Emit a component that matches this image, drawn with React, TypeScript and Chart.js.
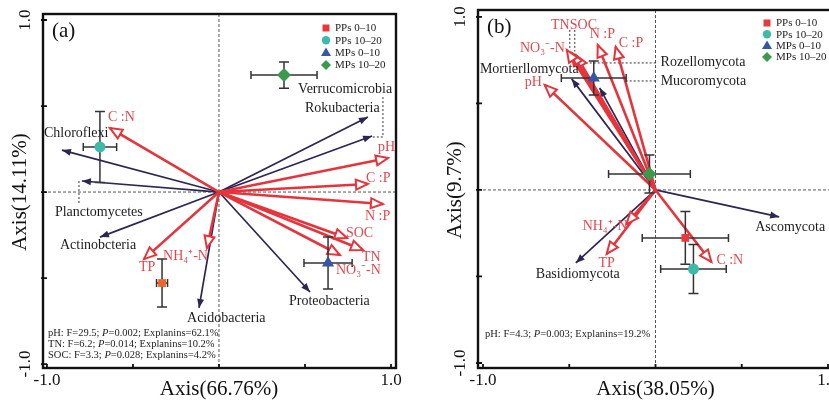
import React, { useEffect, useRef } from "react";
import { Chart, registerables } from "chart.js";

Chart.register(...registerables);

const FONT = "'Liberation Serif', 'Times New Roman', serif";

// Sample groups shared by both ordination panels
const groupNames = ["PPs 0–10", "PPs 10–20", "MPs 0–10", "MPs 10–20"];
const groupColors = ["#e8383d", "#3dbaa9", "#3556a6", "#3a9a4e"];
const groupShapes = ["rect", "circle", "triangle", "rectRot"];
const groupRadius = [5.5, 5.5, 7, 7];

// Axis ticks
const tickValues = [-1, -0.5, 0, 0.5, 1];
const tickLabelValues = [-1, 1];
const tickLabelText = ["-1.0", "1.0"];

// ---- (a) bacterial phyla ----
const envNamesA = ["C :N", "pH", "C :P", "N :P", "SOC", "TN", "NO₃⁻-N", "NH₄⁺-N", "TP"];
const envXA = [-0.634, 0.983, 0.866, 0.953, 0.744, 0.837, 0.703, -0.07, -0.436];
const envYA = [0.372, 0.198, 0.047, -0.07, -0.267, -0.337, -0.366, -0.326, -0.39];

const taxaNamesA = ["Rokubacteria", "Verrucomicrobia", "Chloroflexi", "Planctomycetes", "Actinobcteria", "Acidobacteria", "Proteobacteria"];
const taxaXA = [0.866, 0.89, -0.913, -0.797, -0.692, -0.116, 0.529];
const taxaYA = [0.436, 0.326, 0.244, 0.064, -0.262, -0.674, -0.581];

const groupXA = [-0.331, -0.692, 0.634, 0.378];
const groupYA = [-0.529, 0.262, -0.413, 0.68];
const groupXErrA = [0.032, 0.097, 0.14, 0.192];
const groupYErrA = [0.14, 0.206, 0.151, 0.076];

const statsA = [
  "pH: F=29.5; P=0.002; Explanins=62.1%",
  "TN: F=6.2; P=0.014; Explanins=10.2%",
  "SOC: F=3.3; P=0.028; Explanins=4.2%",
];

// ---- (b) fungal phyla ----
const envNamesB = ["NO₃⁻-N", "TN", "SOC", "N :P", "C :P", "pH", "NH₄⁺-N", "TP", "C :N"];
const envXB = [-0.514, -0.486, -0.462, -0.335, -0.231, -0.642, -0.168, -0.283, 0.324];
const envYB = [0.809, 0.792, 0.78, 0.838, 0.827, 0.607, -0.197, -0.37, -0.416];

const taxaNamesB = ["Mortierllomycota", "Mucoromycota", "Rozellomycota", "Basidiomycota", "Ascomycota"];
const taxaXB = [-0.428, -0.486, -0.324, -0.462, 0.717];
const taxaYB = [0.694, 0.642, 0.59, -0.422, -0.156];

const groupXB = [0.173, 0.22, -0.358, -0.035];
const groupYB = [-0.277, -0.457, 0.647, 0.092];
const groupXErrB = [0.25, 0.19, 0.188, 0.237];
const groupYErrB = [0.153, 0.142, 0.098, 0.11];

const statsB = ["pH: F=4.3; P=0.003; Explanins=19.2%"];

type Align = "left" | "right" | "center";
type Place = [number, number, Align];

interface PanelSpec {
  tag: string;
  envNames: string[]; envX: number[]; envY: number[]; envPlace: Place[];
  taxaNames: string[]; taxaX: number[]; taxaY: number[]; taxaPlace: Place[];
  gX: number[]; gY: number[]; gXErr: number[]; gYErr: number[]; gColors: string[];
  leaders: [number, number][][];
  stats: string[];
  xTitle: string; yTitle: string;
  xRange: [number, number]; yRange: [number, number];
  padding: { left: number; right: number; top: number; bottom: number };
  width: number; left: number;
  legendAt: [number, number, number];
  statsAt: [number, number, number];
}

const panelA: PanelSpec = {
  tag: "(a)",
  envNames: envNamesA, envX: envXA, envY: envYA,
  envPlace: [[-2, -11, "left"], [-10, -11, "left"], [-2, -6, "left"], [-18, 12, "left"], [-1, -5, "left"], [-1, 7, "left"], [-4, 15, "left"], [1, 8, "right"], [-5, 8, "left"]],
  taxaNames: taxaNamesA, taxaX: taxaXA, taxaY: taxaYA,
  taxaPlace: [[-63, -9, "left"], [-74, -47, "left"], [-18, -17, "left"], [-27, 31, "left"], [-40, 8, "left"], [-12, 10, "left"], [-21, 9, "left"]],
  gX: groupXA, gY: groupYA, gXErr: groupXErrA, gYErr: groupYErrA,
  gColors: ["#f0642a", groupColors[1], groupColors[2], groupColors[3]],
  leaders: [
    [[0.953, 0.552], [0.953, 0.32], [0.89, 0.32]],
    [[-0.814, 0.064], [-0.814, -0.076]],
  ],
  stats: statsA,
  xTitle: "Axis(66.76%)", yTitle: "Axis(14.11%)",
  xRange: [-1.023, 1.029], yRange: [-1.023, 1.035],
  padding: { left: 43, right: 14, top: 14, bottom: 33 },
  width: 410, left: 0,
  legendAt: [326, 28, 12.3],
  statsAt: [48, 333, 11],
};

const panelB: PanelSpec = {
  tag: "(b)",
  envNames: envNamesB, envX: envXB, envY: envYB,
  envPlace: [[-2, -2, "right"], [-2, -28, "right"], [-6, -30, "left"], [-8, -11, "left"], [3, -4, "left"], [-3, -3, "right"], [1, 2, "right"], [0, 9, "center"], [5, -2, "left"]],
  taxaNames: taxaNamesB, taxaX: taxaXB, taxaY: taxaYB,
  taxaPlace: [[-3, -1, "right"], [89, 2, "left"], [61, -26, "left"], [2, 11, "center"], [-24, 10, "left"]],
  gX: groupXB, gY: groupYB, gXErr: groupXErrB, gYErr: groupYErrB,
  gColors: groupColors,
  leaders: [
    [[-0.497, 0.925], [-0.497, 0.815]],
    [[-0.468, 0.925], [-0.468, 0.8]],
    [[-0.451, 0.734], [0.012, 0.734]],
    [[-0.173, 0.63], [0.012, 0.63]],
  ],
  stats: statsB,
  xTitle: "Axis(38.05%)", yTitle: "Axis(9.7%)",
  xRange: [-1.029, 1.029], yRange: [-1.029, 1.04],
  padding: { left: 68, right: 6, top: 10, bottom: 33 },
  width: 430, left: 410,
  legendAt: [357, 23, 11.3],
  statsAt: [75, 334, 11],
};

const RED = "#e5343c";
const RED_TEXT = "#e2484e";
const NAVY = "#2d2552";

function drawHead(ctx: CanvasRenderingContext2D, fx: number, fy: number, tx: number, ty: number, len: number, half: number, stroke: string, fill: string, lw: number) {
  const ang = Math.atan2(ty - fy, tx - fx);
  const bx = tx - Math.cos(ang) * len;
  const by = ty - Math.sin(ang) * len;
  const nx = -Math.sin(ang) * half;
  const ny = Math.cos(ang) * half;
  ctx.beginPath();
  ctx.moveTo(tx, ty);
  ctx.lineTo(bx + nx, by + ny);
  ctx.lineTo(bx - nx, by - ny);
  ctx.closePath();
  ctx.fillStyle = fill;
  ctx.fill();
  if (lw > 0) {
    ctx.lineWidth = lw;
    ctx.strokeStyle = stroke;
    ctx.lineJoin = "miter";
    ctx.stroke();
  }
}

function drawMarker(ctx: CanvasRenderingContext2D, shape: string, x: number, y: number, color: string) {
  ctx.fillStyle = color;
  ctx.beginPath();
  if (shape === "rect") ctx.rect(x - 3.5, y - 3.5, 7, 7);
  else if (shape === "circle") ctx.arc(x, y, 4.2, 0, Math.PI * 2);
  else if (shape === "triangle") { ctx.moveTo(x, y - 5); ctx.lineTo(x - 5, y + 3.5); ctx.lineTo(x + 5, y + 3.5); ctx.closePath(); }
  else { ctx.moveTo(x, y - 5); ctx.lineTo(x + 5, y); ctx.lineTo(x, y + 5); ctx.lineTo(x - 5, y); ctx.closePath(); }
  ctx.fill();
}

function drawStat(ctx: CanvasRenderingContext2D, text: string, x: number, y: number) {
  const cut = text.indexOf("P=");
  const head = text.slice(0, cut);
  const tail = text.slice(cut + 1);
  const size = "10.5px";
  ctx.font = `${size} ${FONT}`;
  ctx.fillText(head, x, y);
  let cx = x + ctx.measureText(head).width;
  ctx.font = `italic ${size} ${FONT}`;
  ctx.fillText("P", cx, y);
  cx += ctx.measureText("P").width;
  ctx.font = `${size} ${FONT}`;
  ctx.fillText(tail, cx, y);
}

function makePlugin(p: PanelSpec) {
  return {
    id: "rda" + p.tag.replace(/[()]/g, ""),
    beforeDatasetsDraw(chart: any) {
      const { ctx, chartArea: a, scales } = chart;
      const xs = scales.x, ys = scales.y;
      const x0 = xs.getPixelForValue(0), y0 = ys.getPixelForValue(0);
      ctx.save();
      ctx.strokeStyle = "#555";
      ctx.lineWidth = 1;
      ctx.setLineDash([3, 2]);
      ctx.beginPath();
      ctx.moveTo(a.left, y0); ctx.lineTo(a.right, y0);
      ctx.moveTo(x0, a.top); ctx.lineTo(x0, a.bottom);
      ctx.stroke();
      ctx.strokeStyle = "#333";
      ctx.setLineDash([2, 2]);
      p.leaders.forEach((pts) => {
        ctx.beginPath();
        pts.forEach(([vx, vy], i) => {
          const px = xs.getPixelForValue(vx), py = ys.getPixelForValue(vy);
          if (i === 0) ctx.moveTo(px, py); else ctx.lineTo(px, py);
        });
        ctx.stroke();
      });
      ctx.restore();
    },
    beforeDatasetDraw(chart: any, args: any) {
      const ds = chart.data.datasets[args.index];
      if (ds.kind !== "group") return;
      const { ctx, scales } = chart;
      const xs = scales.x, ys = scales.y;
      ctx.save();
      ctx.strokeStyle = "#333";
      ctx.lineWidth = 1.5;
      ctx.setLineDash([]);
      ds.data.forEach((d: any) => {
        const cx = xs.getPixelForValue(d.x), cy = ys.getPixelForValue(d.y);
        const xl = xs.getPixelForValue(d.x - d.xe), xr = xs.getPixelForValue(d.x + d.xe);
        const yt = ys.getPixelForValue(d.y + d.ye), yb = ys.getPixelForValue(d.y - d.ye);
        ctx.beginPath();
        ctx.moveTo(xl, cy); ctx.lineTo(xr, cy);
        ctx.moveTo(xl, cy - 4); ctx.lineTo(xl, cy + 4);
        ctx.moveTo(xr, cy - 4); ctx.lineTo(xr, cy + 4);
        ctx.moveTo(cx, yt); ctx.lineTo(cx, yb);
        ctx.moveTo(cx - 5, yt); ctx.lineTo(cx + 5, yt);
        ctx.moveTo(cx - 5, yb); ctx.lineTo(cx + 5, yb);
        ctx.stroke();
      });
      ctx.restore();
    },
    afterDatasetDraw(chart: any, args: any) {
      const ds = chart.data.datasets[args.index];
      if (ds.kind !== "env" && ds.kind !== "taxa") return;
      const { ctx, scales } = chart;
      const xs = scales.x, ys = scales.y;
      const [o, t] = ds.data;
      const fx = xs.getPixelForValue(o.x), fy = ys.getPixelForValue(o.y);
      const tx = xs.getPixelForValue(t.x), ty = ys.getPixelForValue(t.y);
      ctx.save();
      if (ds.kind === "env") drawHead(ctx, fx, fy, tx, ty, 12, 5, RED, "#fff", 2);
      else drawHead(ctx, fx, fy, tx, ty, 9, 3.5, NAVY, NAVY, 0);
      ctx.restore();
    },
    afterDraw(chart: any) {
      const { ctx, chartArea: a, scales } = chart;
      const xs = scales.x, ys = scales.y;
      const x0 = xs.getPixelForValue(0), y0 = ys.getPixelForValue(0);
      ctx.save();
      ctx.setLineDash([]);
      // frame and ticks
      ctx.strokeStyle = "#111";
      ctx.lineWidth = 2.4;
      ctx.strokeRect(a.left, a.top, a.right - a.left, a.bottom - a.top);
      ctx.lineWidth = 1.8;
      ctx.beginPath();
      tickValues.forEach((v) => {
        const px = xs.getPixelForValue(v);
        ctx.moveTo(px, a.bottom - 4); ctx.lineTo(px, a.bottom + 1);
        const py = ys.getPixelForValue(v);
        ctx.moveTo(a.left - 2, py); ctx.lineTo(a.left + 4, py);
      });
      ctx.stroke();

      // tick labels and axis titles
      ctx.fillStyle = "#111";
      ctx.textAlign = "center";
      ctx.textBaseline = "middle";
      ctx.font = `17px ${FONT}`;
      tickLabelValues.forEach((v, i) => {
        ctx.fillText(tickLabelText[i], xs.getPixelForValue(v), a.bottom + 13);
        ctx.save();
        ctx.translate(a.left - 17, ys.getPixelForValue(v));
        ctx.rotate(-Math.PI / 2);
        ctx.fillText(tickLabelText[i], 0, 0);
        ctx.restore();
      });
      ctx.font = `21px ${FONT}`;
      ctx.fillText(p.xTitle, x0, a.bottom + 21);
      ctx.save();
      ctx.translate(a.left - 23, y0);
      ctx.rotate(-Math.PI / 2);
      ctx.fillText(p.yTitle, 0, 0);
      ctx.restore();

      // panel tag
      ctx.textAlign = "left";
      ctx.fillText(p.tag, a.left + 9, a.top + 17);

      // vector labels
      ctx.font = `14px ${FONT}`;
      ctx.fillStyle = RED_TEXT;
      p.envNames.forEach((name, i) => {
        const [dx, dy, al] = p.envPlace[i];
        ctx.textAlign = al;
        ctx.fillText(name, xs.getPixelForValue(p.envX[i]) + dx, ys.getPixelForValue(p.envY[i]) + dy);
      });
      ctx.fillStyle = "#1c1c1c";
      p.taxaNames.forEach((name, i) => {
        const [dx, dy, al] = p.taxaPlace[i];
        ctx.textAlign = al;
        ctx.fillText(name, xs.getPixelForValue(p.taxaX[i]) + dx, ys.getPixelForValue(p.taxaY[i]) + dy);
      });

      // legend
      const [lx, ly, step] = p.legendAt;
      ctx.font = `11px ${FONT}`;
      ctx.textAlign = "left";
      groupNames.forEach((name, i) => {
        const yy = ly + i * step;
        drawMarker(ctx, groupShapes[i], lx, yy, groupColors[i]);
        ctx.fillStyle = "#222";
        ctx.fillText(name, lx + 9, yy + 0.5);
      });

      // statistics
      const [sx, sy, sstep] = p.statsAt;
      ctx.fillStyle = "#222";
      p.stats.forEach((line, i) => drawStat(ctx, line, sx, sy + i * sstep));
      ctx.restore();
    },
  };
}

function buildDatasets(p: PanelSpec) {
  const arrows: any[] = [];
  p.envNames.forEach((name, i) => {
    arrows.push({
      kind: "env", label: name, data: [{ x: 0, y: 0 }, { x: p.envX[i], y: p.envY[i] }],
      showLine: true, borderColor: RED, borderWidth: 2.6, pointRadius: 0, order: 10, clip: false,
    });
  });
  p.taxaNames.forEach((name, i) => {
    arrows.push({
      kind: "taxa", label: name, data: [{ x: 0, y: 0 }, { x: p.taxaX[i], y: p.taxaY[i] }],
      showLine: true, borderColor: NAVY, borderWidth: 1.7, pointRadius: 0, order: 11, clip: false,
    });
  });
  const groups = groupNames.map((name, i) => ({
    kind: "group", label: name,
    data: [{ x: p.gX[i], y: p.gY[i], xe: p.gXErr[i], ye: p.gYErr[i] }],
    pointStyle: groupShapes[i], pointRadius: groupRadius[i],
    backgroundColor: p.gColors[i], borderColor: p.gColors[i], borderWidth: 0,
    order: 1 + i, clip: false,
  }));
  return [...arrows, ...groups];
}

function Panel({ spec }: { spec: PanelSpec }) {
  const ref = useRef<HTMLCanvasElement | null>(null);
  useEffect(() => {
    if (!ref.current) return;
    const chart = new Chart(ref.current, {
      type: "scatter",
      data: { datasets: buildDatasets(spec) as any },
      options: {
        responsive: false,
        animation: false,
        events: [],
        layout: { padding: spec.padding },
        scales: {
          x: { type: "linear", min: spec.xRange[0], max: spec.xRange[1], display: false },
          y: { type: "linear", min: spec.yRange[0], max: spec.yRange[1], display: false },
        },
        plugins: { legend: { display: false }, tooltip: { enabled: false } },
      },
      plugins: [makePlugin(spec)],
    });
    return () => chart.destroy();
  }, [spec]);
  return (
    <canvas
      ref={ref}
      width={spec.width}
      height={401}
      style={{ position: "absolute", left: spec.left, top: 0, width: spec.width, height: 401 }}
    />
  );
}

export default function App() {
  return (
    <div style={{ position: "absolute", left: 0, top: 0, width: 829, height: 401, overflow: "hidden", background: "#fff" }}>
      <Panel spec={panelA} />
      <Panel spec={panelB} />
    </div>
  );
}
